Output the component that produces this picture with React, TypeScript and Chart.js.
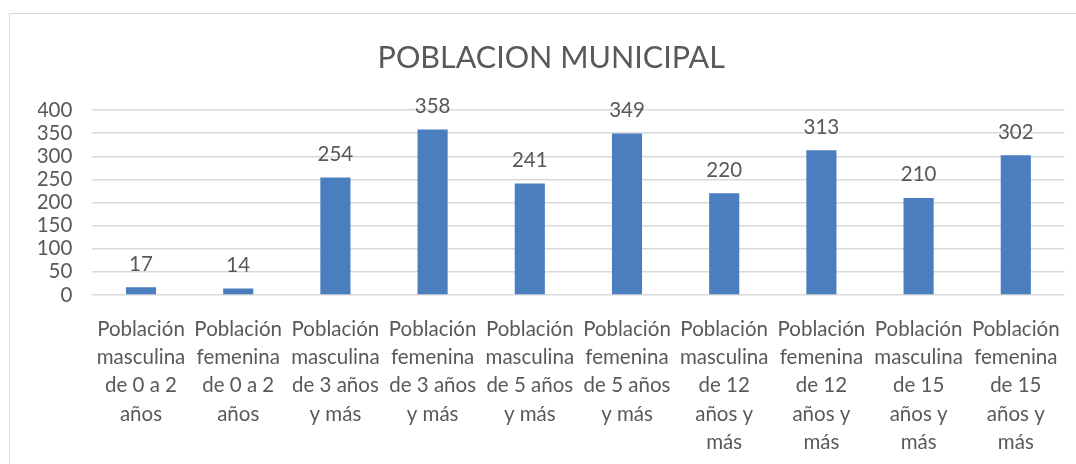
import React, { useEffect, useRef } from "react";
import { Chart, registerables } from "chart.js";

Chart.register(...registerables);

const categories: string[][] = [
  ["Población", "masculina", "de 0 a 2", "años"],
  ["Población", "femenina", "de 0 a 2", "años"],
  ["Población", "masculina", "de 3 años", "y más"],
  ["Población", "femenina", "de 3 años", "y más"],
  ["Población", "masculina", "de 5 años", "y más"],
  ["Población", "femenina", "de 5 años", "y más"],
  ["Población", "masculina", "de 12", "años y", "más"],
  ["Población", "femenina", "de 12", "años y", "más"],
  ["Población", "masculina", "de 15", "años y", "más"],
  ["Población", "femenina", "de 15", "años y", "más"],
];

const values: number[] = [17, 14, 254, 358, 241, 349, 220, 313, 210, 302];

const title = "POBLACION MUNICIPAL";
const yMin = 0;
const yMax = 400;
const yStep = 50;

const FONT = "Lato, 'Open Sans', sans-serif";
const TEXT = "#595959";
const BAR = "#4a7ebf";
const GRID = "#d9d9d9";

const frame = {
  id: "frame",
  beforeDraw(chart: any) {
    const ctx = chart.ctx;
    ctx.save();
    ctx.strokeStyle = GRID;
    ctx.lineWidth = 1;
    ctx.beginPath();
    ctx.moveTo(9.5, chart.height);
    ctx.lineTo(9.5, 13.5);
    ctx.lineTo(chart.width, 13.5);
    ctx.stroke();
    ctx.restore();
  },
};

const dataLabels = {
  id: "dataLabels",
  afterDatasetsDraw(chart: any) {
    const ctx = chart.ctx;
    ctx.save();
    ctx.font = `20.5px ${FONT}`;
    ctx.fillStyle = TEXT;
    ctx.textAlign = "center";
    ctx.textBaseline = "middle";
    const meta = chart.getDatasetMeta(0);
    meta.data.forEach((bar: any, i: number) => {
      const v = chart.data.datasets[0].data[i];
      ctx.fillText(String(v), bar.x, bar.y - 23);
    });
    ctx.restore();
  },
};

export default function App() {
  const ref = useRef<HTMLCanvasElement | null>(null);

  useEffect(() => {
    if (!ref.current) return;
    const chart = new Chart(ref.current, {
      type: "bar",
      data: {
        labels: categories,
        datasets: [
          {
            data: values,
            backgroundColor: BAR,
            borderWidth: 0,
            categoryPercentage: 1,
            barPercentage: 0.31,
          },
        ],
      },
      options: {
        animation: false,
        responsive: false,
        maintainAspectRatio: false,
        layout: { padding: { left: 38, right: 11.6, top: 0, bottom: 0 } },
        plugins: {
          legend: { display: false },
          tooltip: { enabled: false },
          title: {
            display: true,
            text: title,
            color: TEXT,
            font: { family: FONT, size: 30.5, weight: "normal", lineHeight: 1.2 },
            padding: { top: 40, bottom: 33.4 },
          },
        },
        scales: {
          x: {
            grid: { display: false },
            border: { display: false },
            afterFit(scale: any) {
              scale.height = 169;
            },
            ticks: {
              autoSkip: false,
              maxRotation: 0,
              minRotation: 0,
              padding: 12,
              color: TEXT,
              font: { family: FONT, size: 20.5, lineHeight: 1.38 },
            },
          },
          y: {
            min: yMin,
            max: yMax,
            grid: { color: GRID, drawTicks: false, lineWidth: 1.5 },
            border: { display: false },
            afterFit(scale: any) {
              scale.width = 54.4;
            },
            ticks: {
              autoSkip: false,
              stepSize: yStep,
              padding: 20,
              color: TEXT,
              font: { family: FONT, size: 20.5 },
            },
          },
        },
      },
      plugins: [frame, dataLabels],
    });
    return () => chart.destroy();
  }, []);

  return (
    <div style={{ position: "absolute", left: 0, top: 0, width: 1076, height: 464, background: "#fff" }}>
      <canvas ref={ref} width={1076} height={464} />
    </div>
  );
}
